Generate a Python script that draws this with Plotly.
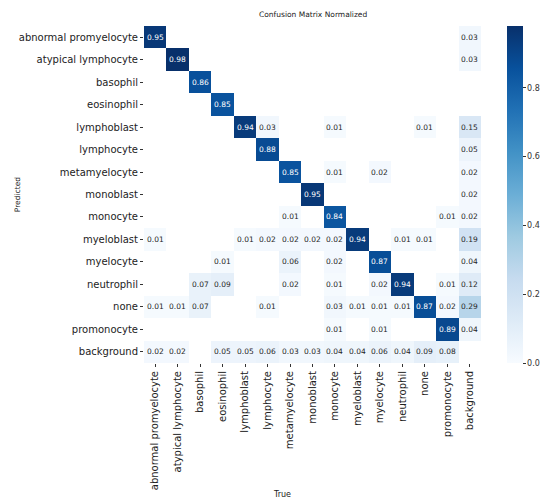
import plotly.graph_objects as go

classes = ["abnormal promyelocyte", "atypical lymphocyte", "basophil", "eosinophil",
           "lymphoblast", "lymphocyte", "metamyelocyte", "monoblast", "monocyte",
           "myeloblast", "myelocyte", "neutrophil", "none", "promonocyte", "background"]

# rows = Predicted, columns = True (0 = empty cell)
row_abnormal_promyelocyte = [0.95, 0, 0, 0, 0, 0, 0, 0, 0, 0, 0, 0, 0, 0, 0.03]
row_atypical_lymphocyte   = [0, 0.98, 0, 0, 0, 0, 0, 0, 0, 0, 0, 0, 0, 0, 0.03]
row_basophil              = [0, 0, 0.86, 0, 0, 0, 0, 0, 0, 0, 0, 0, 0, 0, 0]
row_eosinophil            = [0, 0, 0, 0.85, 0, 0, 0, 0, 0, 0, 0, 0, 0, 0, 0]
row_lymphoblast           = [0, 0, 0, 0, 0.94, 0.03, 0, 0, 0.01, 0, 0, 0, 0.01, 0, 0.15]
row_lymphocyte            = [0, 0, 0, 0, 0, 0.88, 0, 0, 0, 0, 0, 0, 0, 0, 0.05]
row_metamyelocyte         = [0, 0, 0, 0, 0, 0, 0.85, 0, 0.01, 0, 0.02, 0, 0, 0, 0.02]
row_monoblast             = [0, 0, 0, 0, 0, 0, 0, 0.95, 0, 0, 0, 0, 0, 0, 0.02]
row_monocyte              = [0, 0, 0, 0, 0, 0, 0.01, 0, 0.84, 0, 0, 0, 0, 0.01, 0.02]
row_myeloblast            = [0.01, 0, 0, 0, 0.01, 0.02, 0.02, 0.02, 0.02, 0.94, 0, 0.01, 0.01, 0, 0.19]
row_myelocyte             = [0, 0, 0, 0.01, 0, 0, 0.06, 0, 0.02, 0, 0.87, 0, 0, 0, 0.04]
row_neutrophil            = [0, 0, 0.07, 0.09, 0, 0, 0.02, 0, 0.01, 0, 0.02, 0.94, 0, 0.01, 0.12]
row_none                  = [0.01, 0.01, 0.07, 0, 0, 0.01, 0, 0, 0.03, 0.01, 0.01, 0.01, 0.87, 0.02, 0.29]
row_promonocyte           = [0, 0, 0, 0, 0, 0, 0, 0, 0.01, 0, 0.01, 0, 0, 0.89, 0.04]
row_background            = [0.02, 0.02, 0, 0.05, 0.05, 0.06, 0.03, 0.03, 0.04, 0.04, 0.06, 0.04, 0.09, 0.08, 0]

matrix = [row_abnormal_promyelocyte, row_atypical_lymphocyte, row_basophil, row_eosinophil,
          row_lymphoblast, row_lymphocyte, row_metamyelocyte, row_monoblast, row_monocyte,
          row_myeloblast, row_myelocyte, row_neutrophil, row_none, row_promonocyte, row_background]

cbar_ticks = [0.0, 0.2, 0.4, 0.6, 0.8]

blues = [[0.0, "#f7fbff"], [0.125, "#deebf7"], [0.25, "#c6dbef"], [0.375, "#9ecae1"],
         [0.5, "#6baed6"], [0.625, "#4292c6"], [0.75, "#2171b5"], [0.875, "#08519c"],
         [1.0, "#08306b"]]

z = [[(v if v > 0 else None) for v in row] for row in matrix]

PW = 337.5  # plot area width in px
PH = 337.5  # plot area height in px

fig = go.Figure()
fig.add_trace(go.Heatmap(
    z=z, x=classes, y=classes, colorscale=blues, zmin=0, zmax=0.98,
    hoverongaps=False,
    colorbar=dict(x=364 / PW, xanchor="left", xref="paper", xpad=0,
                  y=0, yanchor="bottom", ypad=0, len=1,
                  lenmode="fraction", thickness=16, outlinewidth=0,
                  tickvals=cbar_ticks, ticktext=[f"{t:.1f}" for t in cbar_ticks],
                  ticks="outside", ticklen=3, tickcolor="#333",
                  tickfont=dict(family="DejaVu Sans", size=8, color="#333")),
))

annotations = []
for i, row in enumerate(matrix):
    for j, v in enumerate(row):
        if v > 0:
            annotations.append(dict(
                x=classes[j], y=classes[i], xref="x", yref="y", text=f"{v:.2f}",
                showarrow=False,
                font=dict(family="DejaVu Sans", size=7.5,
                          color="white" if v > 0.5 else "#262626")))

annotations += [
    dict(text="Confusion Matrix Normalized", x=0.5, y=1, xref="paper", yref="paper",
         yanchor="bottom", yshift=6, borderpad=0, showarrow=False,
         font=dict(family="DejaVu Sans", size=7.5, color="#222")),
    dict(text="Predicted", x=(3 - 136) / PW, y=0.5, xref="paper", yref="paper",
         showarrow=False, textangle=-90,
         font=dict(family="DejaVu Sans", size=7.5, color="#222")),
    dict(text="True", x=(282 - 144) / PW, y=-131.5 / PH, xref="paper", yref="paper",
         yanchor="middle", showarrow=False,
         font=dict(family="DejaVu Sans", size=8, color="#222")),
]

fig.update_layout(
    width=542, height=495,
    margin=dict(l=136, r=68.5, t=18, b=139.5, autoexpand=False),
    paper_bgcolor="white", plot_bgcolor="white",
    annotations=annotations,
    xaxis=dict(tickangle=-90, ticks="outside", ticklen=3, tickcolor="#333",
               tickfont=dict(family="DejaVu Sans", size=10, color="#222"),
               showgrid=False, zeroline=False, showline=False),
    yaxis=dict(autorange="reversed", ticks="outside", ticklen=3, tickcolor="#333",
               tickfont=dict(family="DejaVu Sans", size=10, color="#222"),
               showgrid=False, zeroline=False, showline=False),
)

fig.write_html("out.html")
